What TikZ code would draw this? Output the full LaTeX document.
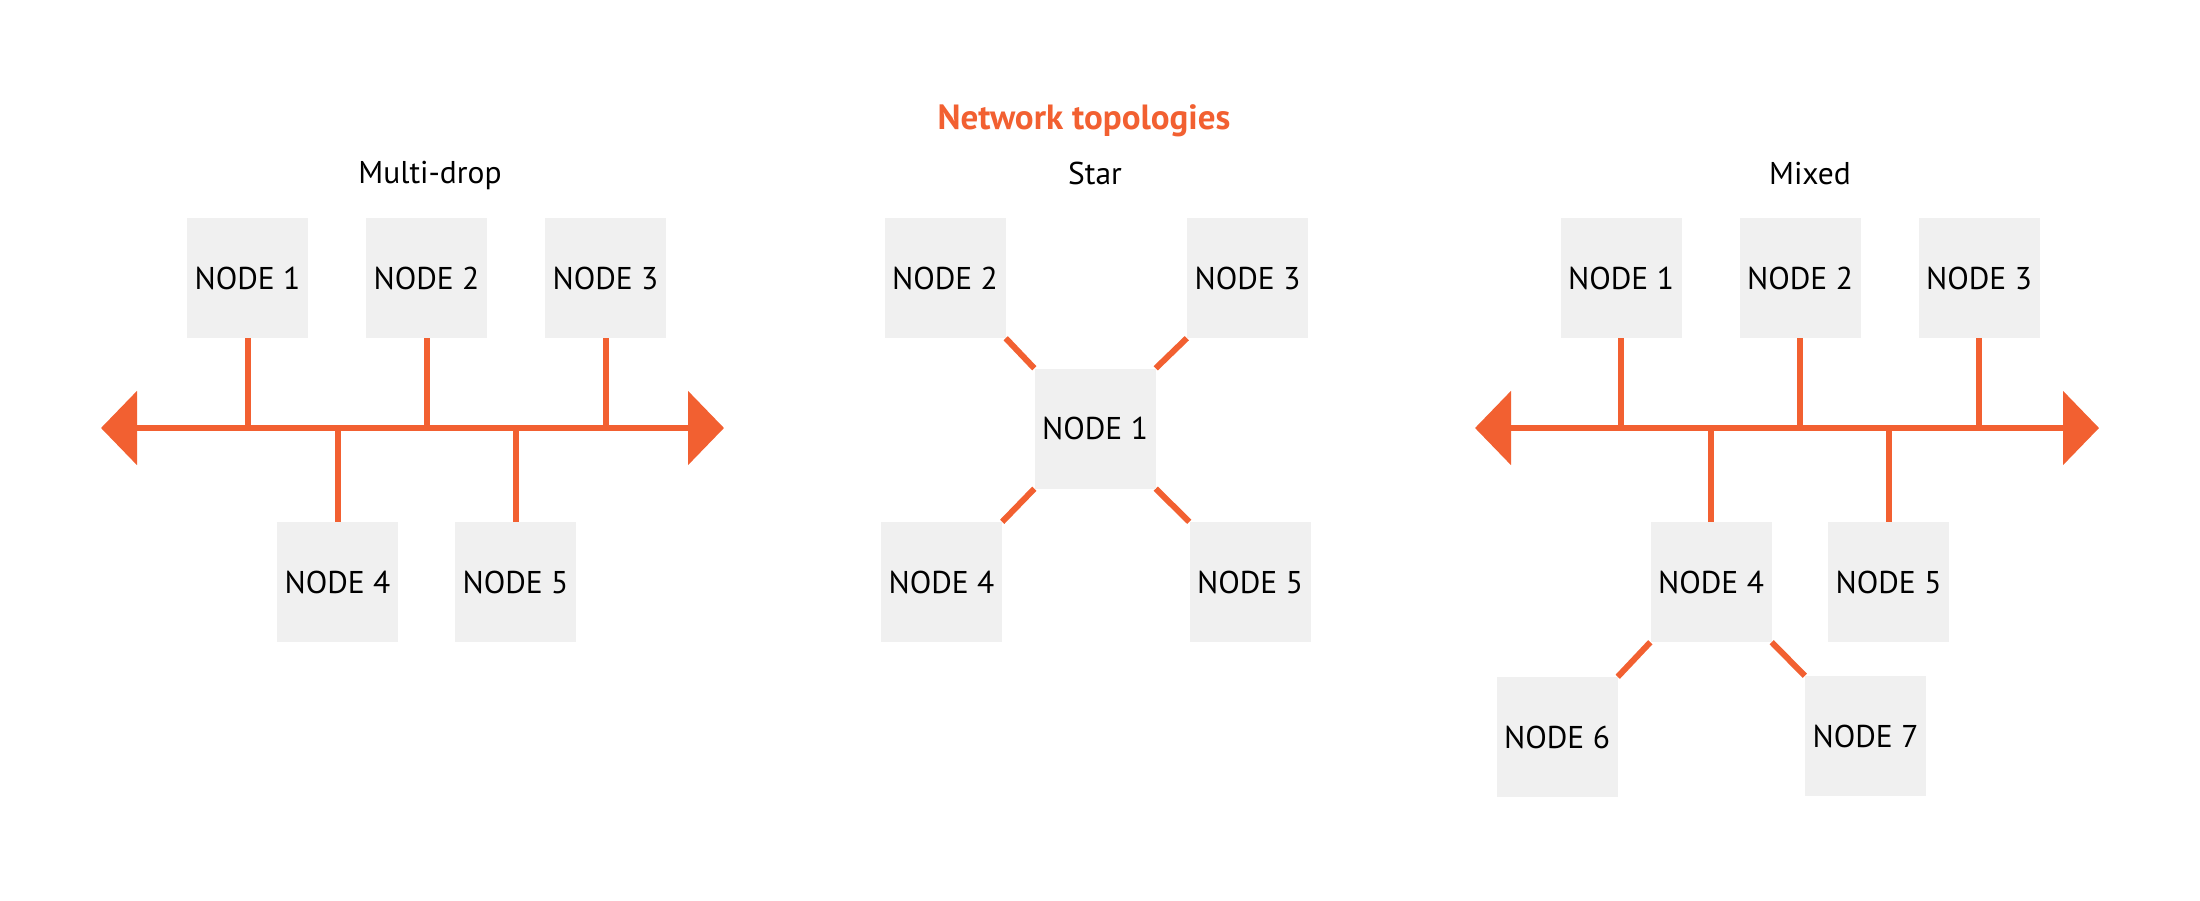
\documentclass[tikz,border=0pt]{standalone}
\usepackage{fontspec}
\setmainfont{PT Sans}
\usetikzlibrary{arrows.meta}
\definecolor{orng}{HTML}{F26031}
\definecolor{boxgray}{HTML}{F0F0F0}
\pgfdeclarelayer{bg}
\pgfsetlayers{bg,main}
\begin{document}
\begin{tikzpicture}[x=1pt,y=-1pt,
  nodebox/.style={fill=boxgray, minimum width=121pt, minimum height=120pt, inner sep=0pt,
    font=\fontsize{31.5}{36}\selectfont},
  stub/.style={color=orng, line width=6pt},
  bus/.style={color=orng, line width=6pt,
    {Triangle[length=36pt,width=73pt]}-{Triangle[length=36pt,width=73pt]}},
  lbl/.style={anchor=base, font=\fontsize{31.5}{36}\selectfont},
  ttl/.style={anchor=base, text=orng, font=\fontsize{35}{40}\selectfont\bfseries},
]
\useasboundingbox (0,0) rectangle (2200,900);

% titles
\node[ttl] (title) at (1084,129) {Network topologies};
\node[lbl] (lmulti) at (430,183) {Multi-drop};
\node[lbl] (lstar) at (1095,184) {Star};
\node[lbl] (lmixed) at (1810,184) {Mixed};

% ---------- Multi-drop ----------
\coordinate (ml) at (101,428);
\coordinate (mr) at (724,428);
\node[nodebox] (m1) at (247.5,278) {NODE 1};
\node[nodebox] (m2) at (426.5,278) {NODE 2};
\node[nodebox] (m3) at (605.5,278) {NODE 3};
\node[nodebox] (m4) at (337.5,582) {NODE 4};
\node[nodebox] (m5) at (515.5,582) {NODE 5};
\begin{pgfonlayer}{bg}
\draw[bus] (ml) -- (mr);
\foreach \n in {m1,m2,m3} \draw[stub] (\n.south) -- (\n.south |- ml);
\foreach \n in {m4,m5} \draw[stub] (\n.north) -- (\n.north |- ml);
\end{pgfonlayer}

% ---------- Star ----------
\node[nodebox] (s1) at (1095,428.5) {NODE 1};
\node[nodebox] (s2) at (945,278) {NODE 2};
\node[nodebox] (s3) at (1247.5,278) {NODE 3};
\node[nodebox] (s4) at (941.5,582) {NODE 4};
\node[nodebox] (s5) at (1250,582) {NODE 5};
\begin{pgfonlayer}{bg}
\draw[stub] (s2.south east) -- (s1.north west);
\draw[stub] (s3.south west) -- (s1.north east);
\draw[stub] (s4.north east) -- (s1.south west);
\draw[stub] (s5.north west) -- (s1.south east);
\end{pgfonlayer}

% ---------- Mixed ----------
\coordinate (xl) at (1475,428);
\coordinate (xr) at (2099,428);
\node[nodebox] (x1) at (1621,278) {NODE 1};
\node[nodebox] (x2) at (1800,278) {NODE 2};
\node[nodebox] (x3) at (1979,278) {NODE 3};
\node[nodebox] (x4) at (1711,582) {NODE 4};
\node[nodebox] (x5) at (1888.5,582) {NODE 5};
\node[nodebox] (x6) at (1557,737) {NODE 6};
\node[nodebox] (x7) at (1865.5,736) {NODE 7};
\begin{pgfonlayer}{bg}
\draw[bus] (xl) -- (xr);
\foreach \n in {x1,x2,x3} \draw[stub] (\n.south) -- (\n.south |- xl);
\foreach \n in {x4,x5} \draw[stub] (\n.north) -- (\n.north |- xl);
\draw[stub] (x4.south west) -- (x6.north east);
\draw[stub] (x4.south east) -- (x7.north west);
\end{pgfonlayer}
\end{tikzpicture}
\end{document}
